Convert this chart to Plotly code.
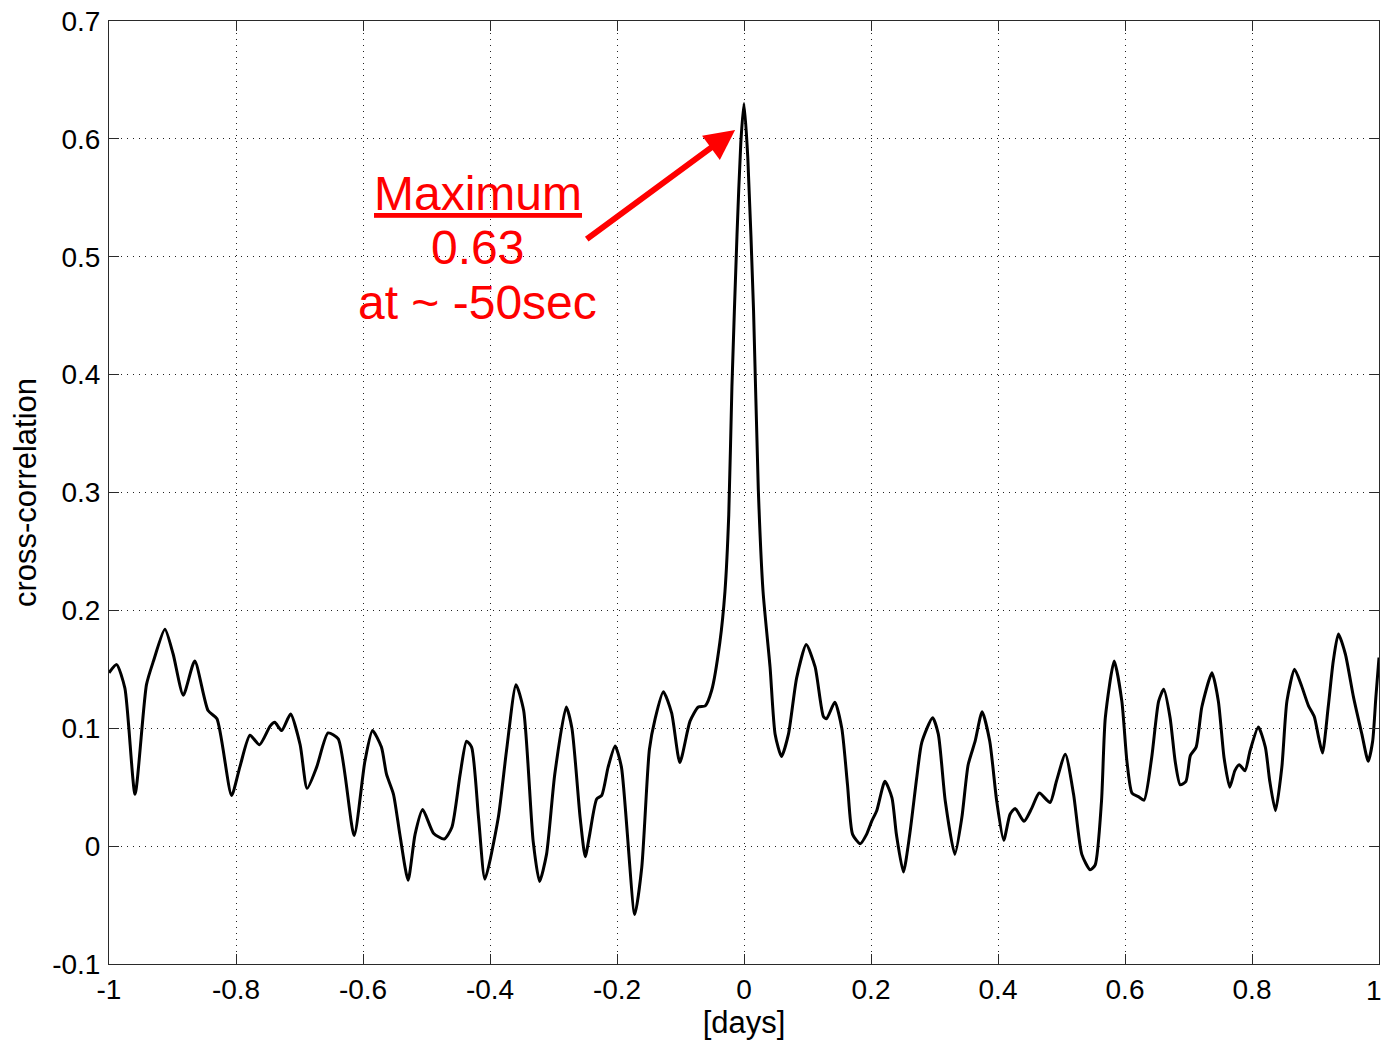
import plotly.graph_objects as go

# Lag axis (days) and cross-correlation coefficient
lag_days = [
    -1.000, -0.988, -0.975, -0.959, -0.941, -0.930, -0.912, -0.899, -0.883, -0.865,
    -0.844, -0.830, -0.807, -0.794, -0.778, -0.763, -0.746, -0.739, -0.728, -0.714,
    -0.699, -0.688, -0.673, -0.655, -0.639, -0.614, -0.597, -0.585, -0.571, -0.563,
    -0.552, -0.542, -0.529, -0.518, -0.506, -0.489, -0.472, -0.460, -0.447, -0.437,
    -0.429, -0.418, -0.408, -0.387, -0.374, -0.359, -0.347, -0.332, -0.322, -0.311,
    -0.298, -0.280, -0.271, -0.258, -0.250, -0.243, -0.232, -0.224, -0.214, -0.203,
    -0.193, -0.172, -0.161, -0.149, -0.140, -0.127, -0.114, -0.101, -0.085, -0.072,
    -0.061, -0.051, -0.038, -0.030, -0.024, -0.019, -0.011, -0.005, 0.000, 0.006,
    0.015, 0.0225, 0.030, 0.041, 0.049, 0.059, 0.070, 0.083, 0.098, 0.112,
    0.125, 0.130, 0.143, 0.154, 0.163, 0.171, 0.183, 0.193, 0.201, 0.209,
    0.222, 0.233, 0.240, 0.251, 0.261, 0.272, 0.280, 0.297, 0.306, 0.317,
    0.332, 0.343, 0.353, 0.364, 0.375, 0.387, 0.398, 0.409, 0.419, 0.427,
    0.441, 0.453, 0.465, 0.482, 0.492, 0.506, 0.519, 0.532, 0.545, 0.553,
    0.563, 0.569, 0.583, 0.595, 0.603, 0.611, 0.621, 0.630, 0.642, 0.653,
    0.661, 0.671, 0.679, 0.687, 0.696, 0.703, 0.712, 0.721, 0.737, 0.747,
    0.756, 0.765, 0.773, 0.780, 0.789, 0.797, 0.810, 0.821, 0.828, 0.837,
    0.847, 0.855, 0.867, 0.878, 0.889, 0.898, 0.905, 0.911, 0.920, 0.928,
    0.936, 0.947, 0.960, 0.973, 0.983, 0.990, 0.995, 1.000,
]
xcorr = [
    0.147, 0.154, 0.134, 0.044, 0.137, 0.157, 0.184, 0.163, 0.128, 0.157,
    0.115, 0.108, 0.043, 0.067, 0.094, 0.086, 0.102, 0.105, 0.098, 0.112,
    0.086, 0.049, 0.067, 0.096, 0.091, 0.009, 0.072, 0.098, 0.084, 0.061,
    0.044, 0.010, -0.029, 0.010, 0.031, 0.011, 0.006, 0.016, 0.061, 0.089,
    0.084, 0.024, -0.028, 0.024, 0.081, 0.137, 0.115, 0.004, -0.030, -0.007,
    0.061, 0.118, 0.100, 0.024, -0.009, 0.010, 0.040, 0.043, 0.067, 0.085,
    0.067, -0.058, -0.018, 0.082, 0.108, 0.131, 0.113, 0.071, 0.106, 0.118,
    0.119, 0.132, 0.173, 0.216, 0.281, 0.390, 0.519, 0.597, 0.630, 0.584,
    0.455, 0.303, 0.216, 0.152, 0.095, 0.076, 0.095, 0.143, 0.171, 0.152,
    0.110, 0.108, 0.122, 0.100, 0.052, 0.010, 0.002, 0.010, 0.021, 0.030,
    0.055, 0.041, 0.010, -0.022, 0.010, 0.058, 0.088, 0.109, 0.095, 0.038,
    -0.007, 0.024, 0.069, 0.089, 0.114, 0.089, 0.038, 0.005, 0.027, 0.032,
    0.021, 0.032, 0.045, 0.037, 0.055, 0.078, 0.044, -0.007, -0.020, -0.016,
    0.038, 0.109, 0.157, 0.123, 0.072, 0.045, 0.042, 0.039, 0.075, 0.123,
    0.133, 0.109, 0.072, 0.052, 0.055, 0.077, 0.084, 0.118, 0.147, 0.123,
    0.075, 0.050, 0.064, 0.069, 0.064, 0.081, 0.101, 0.084, 0.055, 0.030,
    0.067, 0.123, 0.150, 0.136, 0.119, 0.110, 0.092, 0.079, 0.118, 0.157,
    0.180, 0.163, 0.126, 0.095, 0.072, 0.089, 0.126, 0.160,
]

x_ticks = [-1, -0.8, -0.6, -0.4, -0.2, 0, 0.2, 0.4, 0.6, 0.8, 1]
x_tick_text = ["-1", "-0.8", "-0.6", "-0.4", "-0.2", "0", "0.2", "0.4", "0.6", "0.8", "1"]
y_ticks = [-0.1, 0, 0.1, 0.2, 0.3, 0.4, 0.5, 0.6, 0.7]
y_tick_text = ["-0.1", "0", "0.1", "0.2", "0.3", "0.4", "0.5", "0.6", "0.7"]

peak_value = max(xcorr)
peak_lag = lag_days[xcorr.index(peak_value)]

FONT = "Liberation Sans, Arial, Helvetica, sans-serif"
RED = "#ff0000"
TICK_SIZE = 28

fig = go.Figure()
fig.add_trace(go.Scatter(
    x=lag_days, y=xcorr, mode="lines",
    line=dict(color="black", width=3, shape="spline", smoothing=0.6),
    showlegend=False, hoverinfo="skip",
))

axis_common = dict(
    showline=True, linecolor="#2a2a2a", linewidth=1, mirror="ticks",
    ticks="inside", ticklen=10, tickwidth=1, tickcolor="#2a2a2a",
    showgrid=True, gridcolor="#222222", gridwidth=1, griddash="1px,5px",
    zeroline=False, tickfont=dict(family=FONT, size=TICK_SIZE, color="black"),
    automargin=False,
)

# The last x label sits flush against the page edge, so it is drawn
# as a right-anchored annotation instead of a regular tick label.
fig.update_xaxes(
    range=[-1, 1], tickmode="array", tickvals=x_ticks,
    ticktext=x_tick_text[:-1] + [""],
    title=dict(text="[days]", font=dict(family=FONT, size=31, color="black"), standoff=0),
    ticklabelstandoff=0,
    **axis_common,
)
fig.update_yaxes(
    range=[-0.1, 0.7], tickmode="array", tickvals=y_ticks, ticktext=y_tick_text,
    title=dict(text="cross-correlation", font=dict(family=FONT, size=31, color="black"), standoff=6),
    ticklabelstandoff=2,
    **axis_common,
)
fig.add_annotation(
    x=x_ticks[-1], y=0, xref="x", yref="paper", text=x_tick_text[-1],
    showarrow=False, xanchor="right", yanchor="top", xshift=5, yshift=-9,
    font=dict(family=FONT, size=TICK_SIZE, color="black"),
)

# Peak callout text
label_x = -0.419
fig.add_annotation(
    x=label_x, y=0.554, xref="x", yref="y", text="Maximum", showarrow=False,
    font=dict(family=FONT, size=48, color=RED, lineposition="under"),
    xanchor="center", yanchor="middle",
)
fig.add_annotation(
    x=label_x, y=0.508, xref="x", yref="y", text=f"{peak_value:.2f}", showarrow=False,
    font=dict(family=FONT, size=48, color=RED),
    xanchor="center", yanchor="middle",
)
fig.add_annotation(
    x=label_x, y=0.461, xref="x", yref="y", text="at ~ -50sec", showarrow=False,
    font=dict(family=FONT, size=48, color=RED),
    xanchor="center", yanchor="middle",
)
# Arrow pointing at the peak
fig.add_annotation(
    x=peak_lag - 0.014, y=peak_value - 0.0225, xref="x", yref="y",
    ax=-0.250, ay=0.514, axref="x", ayref="y",
    text="", showarrow=True, arrowhead=2, arrowsize=1, arrowwidth=6,
    arrowcolor=RED, standoff=0,
)

fig.update_layout(
    width=1385, height=1041, autosize=False,
    margin=dict(l=109, r=6, t=21, b=77, pad=0),
    paper_bgcolor="white", plot_bgcolor="white",
    font=dict(family=FONT, color="black"),
)

fig.write_html("out.html")
